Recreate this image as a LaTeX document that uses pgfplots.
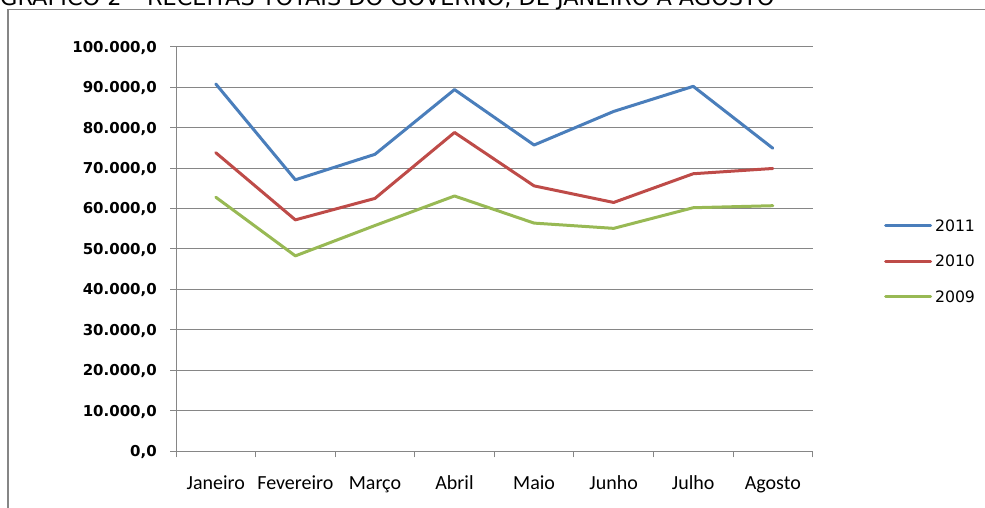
\documentclass[border=0pt]{standalone}
\usepackage{pgfplots}
\pgfplotsset{compat=1.18}
\usepackage{fontspec}
\setmainfont{DejaVu Sans}
\newfontfamily\carlito{Carlito}
\definecolor{s2011}{RGB}{74,126,187}
\definecolor{s2010}{RGB}{190,75,72}
\definecolor{s2009}{RGB}{152,185,84}
\definecolor{gridgray}{RGB}{134,134,134}

\pgfplotstableread{
x y2011 y2010 y2009
0 90800 73800 62800
1 67100 57200 48300
2 73400 62500 55800
3 89400 78800 63100
4 75700 65600 56400
5 84000 61500 55100
6 90200 68600 60200
7 74900 69900 60700
}\receitas

\begin{document}
\begin{tikzpicture}[x=1pt,y=1pt]
\path[use as bounding box, clip] (0,0) rectangle (985,508);
\draw[gridgray, line width=1.3pt] (8,-20) |- (1000,498.7);
\node[anchor=base west, inner sep=0pt, font=\fontsize{22.4}{22.4}\selectfont] at (0,502) {GRÁFICO 2 – RECEITAS TOTAIS DO GOVERNO, DE JANEIRO A AGOSTO};
\begin{axis}[
  at={(176pt,56.7pt)}, anchor=south west,
  scale only axis, width=636.6pt, height=404.6pt,
  xmin=-0.5, xmax=7.5, ymin=0, ymax=100000,
  axis x line=bottom, axis y line=left,
  axis line style={-, draw=gridgray, line width=1pt},
  tick align=outside,
  major tick length=6pt, minor tick length=6pt,
  tick style={draw=gridgray, line width=1pt},
  major x tick style={draw=none},
  xtick={0,1,2,3,4,5,6,7},
  minor xtick={-0.5,0.5,1.5,2.5,3.5,4.5,5.5,6.5,7.5},
  xticklabels={Janeiro,Fevereiro,Março,Abril,Maio,Junho,Julho,Agosto},
  xticklabel style={font=\carlito\fontsize{20}{20}\selectfont, anchor=base, inner sep=0pt, yshift=-32pt},
  ytick={0,10000,20000,30000,40000,50000,60000,70000,80000,90000,100000},
  yticklabels={{0,0},{10.000,0},{20.000,0},{30.000,0},{40.000,0},{50.000,0},{60.000,0},{70.000,0},{80.000,0},{90.000,0},{100.000,0}},
  scaled y ticks=false,
  yticklabel style={font=\bfseries\fontsize{15}{15}\selectfont, anchor=base east, inner sep=0pt, yshift=-5.4pt, xshift=-13pt},
  ymajorgrids,
  grid style={draw=gridgray, line width=1pt},
  legend style={at={(axis description cs:1.1122,0.5724)}, anchor=north west, draw=none, fill=none,
    inner sep=0pt, outer sep=0pt, row sep=24.2pt, column sep=3pt,
    nodes={inner sep=0pt, text height=11.4pt, text depth=0pt, font=\fontsize{15.7}{15.7}\selectfont}},
  legend cell align=left,
  legend image code/.code={\draw[#1] (0pt,0pt) -- (45pt,0pt);},
]
\addplot[s2011, line width=3pt, line join=round, line cap=round] table[x=x, y=y2011] {\receitas};
\addlegendentry{2011}
\addplot[s2010, line width=3pt, line join=round, line cap=round] table[x=x, y=y2010] {\receitas};
\addlegendentry{2010}
\addplot[s2009, line width=3pt, line join=round, line cap=round] table[x=x, y=y2009] {\receitas};
\addlegendentry{2009}
\end{axis}
\end{tikzpicture}
\end{document}
